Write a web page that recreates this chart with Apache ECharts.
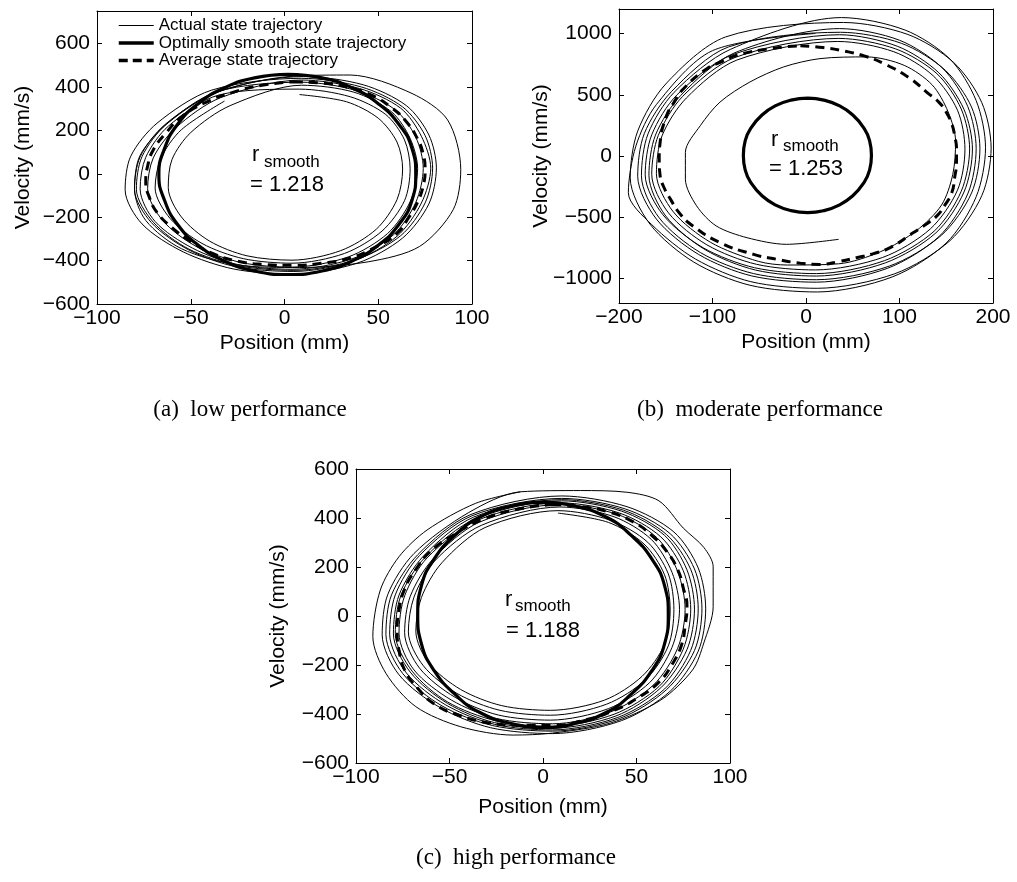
<!DOCTYPE html>
<html>
<head>
<meta charset="utf-8">
<script src="https://cdn.jsdelivr.net/npm/echarts@6/dist/echarts.min.js"></script>
<style>
  html, body { margin: 0; padding: 0; background: #fff; }
  #main { width: 1017px; height: 882px; }
</style>
</head>
<body>
<div id="main"></div>
<script>
// ---- (a) low performance : [position mm, velocity mm/s] ----
var lowTrace1 = [[5,450],[35,455],[68,370],[87,248],[94,20],[90,-165],[72,-335],[45,-405],[8,-432],[-25,-420],[-55,-345],[-74,-215],[-80,-70],[-77,85],[-62,235],[-35,380]];
var lowTrace2 = [[10,448],[42,410],[65,314],[77,179],[81,27],[77,-139],[63,-296],[39,-411],[5,-462],[-27,-439],[-54,-360],[-76,-231],[-85,-74],[-82,81],[-68,233],[-39,385]];
var lowTrace3 = [[9,432],[40,393],[62,302],[73,173],[78,26],[73,-135],[60,-288],[37,-401],[5,-450],[-26,-428],[-51,-351],[-71,-225],[-80,-72],[-77,78],[-64,225],[-37,372]];
var lowTrace4 = [[9,422],[38,384],[59,295],[70,169],[74,25],[70,-132],[58,-282],[36,-392],[4,-440],[-25,-418],[-49,-343],[-69,-220],[-77,-70],[-74,76],[-62,219],[-35,363]];
var lowTrace5 = [[9,408],[37,376],[57,286],[67,163],[71,24],[67,-129],[55,-275],[34,-383],[4,-430],[-23,-409],[-47,-335],[-65,-215],[-73,-69],[-70,73],[-58,212],[-34,351]];
var lowTrace6 = [[8,390],[35,355],[54,273],[64,156],[67,23],[64,-124],[52,-264],[32,-367],[4,-412],[-22,-391],[-44,-321],[-61,-206],[-69,-66],[-66,70],[-55,203],[-32,335]];
var lowTrace7 = [[8,365],[33,332],[50,256],[60,146],[63,22],[60,-119],[49,-255],[30,-354],[4,-398],[-20,-378],[-40,-310],[-55,-199],[-62,-64],[-60,66],[-50,190],[-29,314]];
var lowTrace8 = [[9,440],[41,400],[63,308],[75,176],[79,26],[75,-134],[62,-285],[38,-396],[5,-445],[-25,-423],[-51,-347],[-70,-223],[-79,-71],[-76,79],[-63,229],[-36,378]];
var lowSmooth = [[2,458],[20,442],[36,396],[50,323],[61,228],[68,116],[70,-3],[68,-122],[61,-234],[50,-329],[36,-402],[20,-448],[2,-464],[-16,-448],[-32,-402],[-46,-329],[-57,-234],[-64,-122],[-67,-3],[-64,116],[-57,228],[-46,323],[-32,396],[-16,442],[2,458]];
var lowAverage = [[5,424],[20,418],[34,398],[47,360],[57,305],[65,240],[71,160],[74,90],[75,20],[74,-55],[71,-130],[66,-205],[60,-275],[48,-340],[35,-388],[20,-412],[5,-422],[-10,-418],[-25,-403],[-39,-365],[-50,-312],[-60,-248],[-68,-178],[-72,-110],[-74,-40],[-73,35],[-70,110],[-63,190],[-55,262],[-43,325],[-28,374],[-12,408],[5,424]];

// ---- (b) moderate performance ----
var midTrace0 = [[35,-680],[-21,-721],[-63,-667],[-96,-571],[-117,-407],[-129,-189],[-129,30],[-113,248],[-92,440],[-60,604],[-24,727],[15,795],[65,809],[105,740],[135,580],[152,360],[160,120],[157,-150],[145,-400],[118,-610],[80,-780],[35,-880]];
var midTrace1 = [[-20,-890],[-51,-860],[-102,-705],[-142,-455],[-160,-144],[-154,164],[-128,473],[-74,783]];
var midTrace2 = [[34,935],[94,851],[136,655],[162,374],[170,56],[162,-279],[133,-595],[82,-828],[10,-930],[-53,-884],[-106,-725],[-147,-465],[-165,-149],[-158,168],[-132,486],[-76,804]];
var midTrace3 = [[35,960],[96,874],[140,672],[166,384],[175,58],[166,-288],[137,-614],[84,-854],[11,-960],[-55,-912],[-110,-749],[-153,-480],[-172,-154],[-165,173],[-138,499],[-79,826]];
var midTrace4 = [[36,990],[98,895],[142,680],[169,380],[178,57],[169,-294],[139,-627],[85,-872],[11,-980],[-54,-931],[-108,-764],[-150,-490],[-168,-157],[-161,171],[-134,494],[-77,840]];
var midTrace5 = [[36,1040],[100,945],[146,717],[173,404],[182,61],[173,-309],[142,-659],[87,-917],[11,-1030],[-58,-979],[-115,-803],[-160,-515],[-180,-165],[-173,182],[-144,525],[-83,890]];
var midTrace6 = [[37,1010],[102,920],[149,700],[177,400],[186,60],[177,-303],[145,-646],[89,-899],[11,-1010],[-56,-960],[-113,-788],[-157,-505],[-176,-162],[-169,180],[-141,520],[-81,870]];
var midTrace7 = [[38,1130],[106,1028],[154,791],[182,452],[192,68],[182,-333],[150,-710],[92,-988],[12,-1110],[-60,-1055],[-120,-866],[-167,-555],[-188,-178],[-180,203],[-150,588],[-86,972]];
var midTrace8 = [[40,1090],[109,992],[158,763],[188,436],[198,65],[188,-324],[154,-691],[95,-961],[12,-1080],[-59,-1026],[-118,-842],[-165,-560],[-190,-300],[-182,80],[-160,420],[-100,860],[10,1000]];
var midSmooth = [[2,472],[19,456],[36,409],[50,335],[61,238],[68,126],[70,5],[68,-116],[61,-228],[50,-325],[36,-399],[19,-446],[2,-462],[-16,-446],[-33,-399],[-47,-325],[-58,-228],[-65,-116],[-67,5],[-65,126],[-58,238],[-47,335],[-33,409],[-16,456],[2,472]];
var midAverage = [[-6,900],[18,885],[40,858],[63,815],[83,755],[110,640],[129,522],[142,440],[150,358],[156,260],[159,166],[161,55],[161,-52],[159,-175],[156,-298],[149,-395],[140,-489],[128,-560],[115,-625],[90,-748],[73,-795],[54,-830],[35,-862],[15,-885],[-6,-875],[-30,-845],[-56,-803],[-92,-707],[-121,-571],[-135,-470],[-145,-352],[-152,-255],[-156,-161],[-157,-25],[-156,112],[-149,330],[-141,440],[-131,549],[-106,713],[-90,770],[-74,822],[-38,877],[-6,900]];

// ---- (c) high performance ----
var highTrace1 = [[-12,507],[20,512],[45,505],[62,470],[75,359],[86,280],[91,201],[91,38],[86,-110],[80,-220],[63,-343],[36,-437],[5,-478],[-16,-486],[-44,-452],[-68,-370],[-84,-234],[-91,-84],[-87,106],[-77,242],[-62,351],[-36,460],[-12,507]];
var highTrace2 = [[10,490],[45,446],[70,343],[83,196],[87,29],[83,-144],[68,-307],[42,-427],[5,-480],[-28,-456],[-55,-374],[-77,-240],[-86,-77],[-83,88],[-69,255],[-40,421]];
var highTrace3 = [[10,480],[44,437],[68,336],[81,192],[85,29],[81,-141],[66,-301],[41,-418],[5,-470],[-27,-447],[-54,-367],[-75,-235],[-84,-75],[-81,86],[-67,250],[-39,413]];
var highTrace4 = [[10,475],[43,432],[66,333],[79,190],[83,29],[79,-140],[65,-298],[40,-414],[5,-465],[-26,-442],[-52,-363],[-73,-233],[-82,-74],[-79,86],[-66,247],[-38,409]];
var highTrace5 = [[10,470],[42,428],[65,329],[77,188],[81,28],[77,-137],[63,-293],[39,-408],[5,-458],[-26,-435],[-51,-357],[-71,-229],[-80,-73],[-77,85],[-64,244],[-37,404]];
var highTrace6 = [[9,462],[41,420],[63,323],[75,185],[79,28],[75,-135],[62,-288],[38,-401],[5,-450],[-25,-428],[-51,-351],[-70,-225],[-79,-72],[-76,83],[-63,240],[-36,397]];
var highTrace7 = [[9,455],[40,414],[61,319],[72,182],[76,27],[72,-132],[59,-282],[36,-392],[5,-440],[-25,-418],[-49,-343],[-69,-220],[-77,-70],[-74,82],[-62,237],[-35,391]];
var highTrace8 = [[9,445],[38,405],[58,312],[69,178],[73,27],[69,-128],[57,-272],[35,-378],[4,-425],[-24,-404],[-47,-332],[-66,-213],[-74,-68],[-71,80],[-59,231],[-34,383]];
var highTrace9 = [[8,430],[36,391],[56,301],[67,172],[70,26],[67,-122],[55,-259],[34,-360],[4,-405],[-23,-385],[-46,-316],[-64,-203],[-72,-65],[-69,77],[-58,224],[-33,370]];
var highTrace10 = [[8,420],[35,382],[54,294],[65,168],[68,25],[65,-116],[53,-246],[33,-343],[4,-385],[-22,-366],[-44,-300],[-61,-193],[-68,-62],[-65,76],[-54,218],[-31,361]];
var highSmooth = [[0,465],[17,449],[34,403],[47,330],[58,235],[65,124],[67,5],[65,-114],[58,-225],[47,-320],[34,-393],[17,-439],[0,-455],[-17,-439],[-34,-393],[-47,-320],[-58,-225],[-65,-114],[-67,5],[-65,124],[-58,235],[-47,330],[-34,403],[-17,449],[0,465]];
var highAverage = [[5,455],[20,447],[35,425],[48,385],[58,330],[66,265],[72,190],[75,115],[77,40],[76,-40],[74,-120],[69,-198],[62,-270],[51,-333],[38,-385],[22,-425],[5,-447],[-12,-446],[-30,-435],[-45,-405],[-58,-360],[-67,-295],[-74,-220],[-77,-140],[-78,-60],[-77,25],[-74,110],[-68,190],[-60,265],[-47,335],[-32,395],[-14,435],[5,455]];

// tick labels
var posTicks100 = [-100, -50, 0, 50, 100];
var posTicks200 = [-200, -100, 0, 100, 200];
var velTicks600 = [-600, -400, -200, 0, 200, 400, 600];
var velTicks1000 = [-1000, -500, 0, 500, 1000];

var lowActual = lowTrace7.concat(lowTrace5, lowTrace3, lowTrace1, lowTrace2, lowTrace8, lowTrace4, lowTrace6);
var midActual = midTrace0.concat(midTrace1, midTrace2, midTrace3, midTrace4, midTrace5, midTrace6, midTrace7, midTrace8);
var highActual = highTrace10.concat(highTrace9, highTrace8, highTrace7, highTrace6, highTrace5, highTrace4, highTrace3, highTrace2, highTrace1);

var FONT = 'Liberation Sans';
var minus = function (v) { return String(v).replace('-', '\u2212'); };

function xAx(g, min, max, ticks, pos, gap) {
  var main = pos === 'bottom';
  return {
    type: 'value', gridIndex: g, position: pos, min: min, max: max,
    name: main ? 'Position (mm)' : '', nameLocation: 'middle', nameGap: gap, nameMoveOverlap: false,
    nameTextStyle: { fontFamily: FONT, fontSize: 21, color: '#000' },
    axisLine: { show: true, onZero: false, lineStyle: { color: '#000', width: 1 } },
    axisTick: { show: true, inside: true, length: 5, customValues: ticks, lineStyle: { color: '#000' } },
    axisLabel: { show: main, customValues: ticks, margin: 4, fontFamily: FONT, fontSize: 21, color: '#000', formatter: minus },
    splitLine: { show: false }
  };
}
function yAx(g, min, max, ticks, pos, gap) {
  var main = pos === 'left';
  return {
    type: 'value', gridIndex: g, position: pos, min: min, max: max,
    name: main ? 'Velocity (mm/s)' : '', nameLocation: 'middle', nameGap: gap, nameMoveOverlap: false,
    nameTextStyle: { fontFamily: FONT, fontSize: 21, color: '#000' },
    axisLine: { show: true, onZero: false, lineStyle: { color: '#000', width: 1 } },
    axisTick: { show: true, inside: true, length: 5, customValues: ticks, lineStyle: { color: '#000' } },
    axisLabel: { show: main, customValues: ticks, margin: 7, fontFamily: FONT, fontSize: 21, color: '#000', formatter: minus },
    splitLine: { show: false }
  };
}
function trio(k, actual, smooth, avg) {
  return [
    { name: 'Actual state trajectory', type: 'line', xAxisIndex: 2 * k, yAxisIndex: 2 * k, data: actual,
      symbol: 'none', smooth: 0.3, lineStyle: { color: '#000', width: 1 }, z: 2 },
    { name: 'Optimally smooth state trajectory', type: 'line', xAxisIndex: 2 * k, yAxisIndex: 2 * k, data: smooth,
      symbol: 'none', smooth: true, lineStyle: { color: '#000', width: 3.2 }, z: 3 },
    { name: 'Average state trajectory', type: 'line', xAxisIndex: 2 * k, yAxisIndex: 2 * k, data: avg,
      symbol: 'none', smooth: true, lineStyle: { color: '#000', width: 3, type: [9, 6] }, z: 4 }
  ];
}
function txt(s, x, y, size, family, align) {
  return { type: 'text', x: x, y: y, silent: true,
    style: { text: s, fontSize: size, fontFamily: family || FONT, fill: '#000', textAlign: align || 'left', textVerticalAlign: 'middle' } };
}

var chart = echarts.init(document.getElementById('main'));
chart.setOption({
  animation: false,
  backgroundColor: '#fff',
  grid: [
    { left: 97, top: 11, width: 375, height: 293, outerBoundsMode: 'none' },
    { left: 619, top: 9, width: 374, height: 294, outerBoundsMode: 'none' },
    { left: 356, top: 469, width: 374, height: 294, outerBoundsMode: 'none' }
  ],
  xAxis: [
    xAx(0, -100, 100, posTicks100, 'bottom', 29), xAx(0, -100, 100, posTicks100, 'top', 0),
    xAx(1, -200, 200, posTicks200, 'bottom', 29), xAx(1, -200, 200, posTicks200, 'top', 0),
    xAx(2, -100, 100, posTicks100, 'bottom', 34), xAx(2, -100, 100, posTicks100, 'top', 0)
  ],
  yAxis: [
    yAx(0, -600, 750, velTicks600, 'left', 63), yAx(0, -600, 750, velTicks600, 'right', 0),
    yAx(1, -1200, 1200, velTicks1000, 'left', 67), yAx(1, -1200, 1200, velTicks1000, 'right', 0),
    yAx(2, -600, 600, velTicks600, 'left', 67), yAx(2, -600, 600, velTicks600, 'right', 0)
  ],
  legend: {
    orient: 'vertical', left: 117, top: 17, padding: 0,
    itemWidth: 35, itemHeight: 16, itemGap: 0.5,
    itemStyle: { opacity: 0 },
    textStyle: { fontFamily: FONT, fontSize: 17, color: '#000' },
    data: [
      { name: 'Actual state trajectory', lineStyle: { width: 1 } },
      { name: 'Optimally smooth state trajectory', lineStyle: { width: 3.5 } },
      { name: 'Average state trajectory', lineStyle: { width: 3.5, type: [9, 5] } }
    ]
  },
  series: [].concat(
    trio(0, lowActual, lowSmooth, lowAverage),
    trio(1, midActual, midSmooth, midAverage),
    trio(2, highActual, highSmooth, highAverage)
  ),
  graphic: [
    txt('r', 252, 155, 22), txt('smooth', 264, 162, 17), txt('= 1.218', 250, 185, 22),
    txt('r', 771, 140, 22), txt('smooth', 783, 146, 17), txt('= 1.253', 769, 169, 22),
    txt('r', 505, 600, 22), txt('smooth', 515, 606, 17), txt('= 1.188', 506, 631, 22),
    txt('(a)  low performance', 250, 410, 23, 'Liberation Serif', 'center'),
    txt('(b)  moderate performance', 760, 410, 23, 'Liberation Serif', 'center'),
    txt('(c)  high performance', 516, 858, 23, 'Liberation Serif', 'center')
  ]
});
</script>
</body>
</html>
